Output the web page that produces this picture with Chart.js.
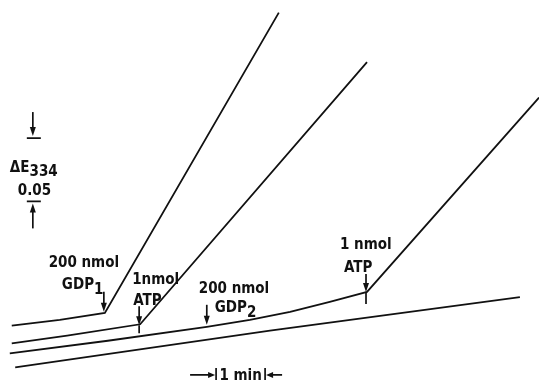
<!DOCTYPE html>
<html>
<head>
<meta charset="utf-8">
<script src="https://cdn.jsdelivr.net/npm/chart.js@4"></script>
<style>
  html, body { margin: 0; padding: 0; background: #fff; }
  #wrap { width: 539px; height: 380px; position: relative; }
</style>
</head>
<body>
<div id="wrap"><canvas id="c"></canvas></div>
<script>
// time in min, absorbance change at 334 nm
const TRACE1_T = [0.24, 1.22, 2.14, 5.69];
const TRACE1_E = [0.043, 0.0475, 0.053, 0.290];
const TRACE2_T = [0.24, 1.37, 2.86, 7.49];
const TRACE2_E = [0.029, 0.035, 0.044, 0.251];
const TRACE3_T = [0.20, 2.20, 4.22, 5.10, 5.92, 6.73, 7.49, 11.0];
const TRACE3_E = [0.021, 0.031, 0.042, 0.0474, 0.0537, 0.0616, 0.0695, 0.223];
const TRACE4_T = [0.31, 5.51, 10.61];
const TRACE4_E = [0.010, 0.039, 0.0655];

// additions: trace and index of the point where it was added
const EVENTS = [
  { name: 'GDP1', trace: 0, idx: 2 },
  { name: 'ATP1', trace: 1, idx: 2 },
  { name: 'GDP2', trace: 2, idx: 2 },
  { name: 'ATP2', trace: 2, idx: 6 }
];
const SCALE_E = 0.05;   // ΔE scale bar
const SCALE_T = 1;      // 1 min scale bar

const traces = [[TRACE1_T, TRACE1_E], [TRACE2_T, TRACE2_E], [TRACE3_T, TRACE3_E], [TRACE4_T, TRACE4_E]];

function toPoints(ts, es) {
  return ts.map((t, i) => ({ x: t, y: es[i] }));
}

const FONT = 'bold 15px "DejaVu Sans Condensed", "DejaVu Sans", sans-serif';
const SUBFONT = 'bold 15px "DejaVu Sans Condensed", "DejaVu Sans", sans-serif';
const INK = '#111';

function arrowDown(ctx, x, tipY, len, tick) {
  ctx.beginPath();
  ctx.moveTo(x, tipY - len);
  ctx.lineTo(x, tipY - 5);
  ctx.stroke();
  ctx.beginPath();
  ctx.moveTo(x, tipY);
  ctx.lineTo(x - 3, tipY - 9);
  ctx.lineTo(x + 3, tipY - 9);
  ctx.closePath();
  ctx.fill();
  if (tick) {
    ctx.beginPath();
    ctx.moveTo(x, tipY);
    ctx.lineTo(x, tipY + tick);
    ctx.stroke();
  }
}

function arrowUp(ctx, x, tipY, len) {
  ctx.beginPath();
  ctx.moveTo(x, tipY + len);
  ctx.lineTo(x, tipY + 5);
  ctx.stroke();
  ctx.beginPath();
  ctx.moveTo(x, tipY);
  ctx.lineTo(x - 3, tipY + 9);
  ctx.lineTo(x + 3, tipY + 9);
  ctx.closePath();
  ctx.fill();
}

function label(ctx, text, x, y, sub, subDy) {
  ctx.font = FONT;
  ctx.fillText(text, x, y);
  if (sub) {
    const w = ctx.measureText(text).width;
    ctx.font = SUBFONT;
    ctx.fillText(sub, x + w, y + subDy);
  }
}

const annotations = {
  id: 'annotations',
  afterDatasetsDraw(chart) {
    const { ctx, scales: { x, y } } = chart;
    ctx.save();
    ctx.strokeStyle = INK;
    ctx.fillStyle = INK;
    ctx.lineWidth = 1.7;
    ctx.textBaseline = 'alphabetic';

    const pos = EVENTS.map(ev => {
      const [ts, es] = traces[ev.trace];
      return { px: x.getPixelForValue(ts[ev.idx]), py: y.getPixelForValue(es[ev.idx]) };
    });

    // GDP1
    let p = pos[0];
    arrowDown(ctx, p.px - 1, p.py - 1, 20, 0);
    ctx.textAlign = 'center';
    label(ctx, '200 nmol', p.px - 21, p.py - 46);
    ctx.textAlign = 'left';
    label(ctx, 'GDP', p.px - 43, p.py - 24, '1', 5);

    // ATP on trace 2
    p = pos[1];
    arrowDown(ctx, p.px - 1, p.py + 1, 19, 8);
    label(ctx, '1nmol', p.px - 8, p.py - 40);
    label(ctx, 'ATP', p.px - 7, p.py - 19);

    // GDP2
    p = pos[2];
    arrowDown(ctx, p.px, p.py - 2, 20, 0);
    label(ctx, '200 nmol', p.px - 8, p.py - 34);
    label(ctx, 'GDP', p.px + 8, p.py - 15, '2', 5);

    // ATP on trace 3
    p = pos[3];
    arrowDown(ctx, p.px - 1, p.py, 18, 12);
    label(ctx, '1 nmol', p.px - 27, p.py - 43);
    label(ctx, 'ATP', p.px - 23, p.py - 20);

    // ΔE scale bar
    const bx = x.getPixelForValue(0.67);
    const yTop = y.getPixelForValue(0.191);
    const yBot = y.getPixelForValue(0.191 - SCALE_E);
    ctx.beginPath();
    ctx.moveTo(bx - 6, yTop); ctx.lineTo(bx + 8, yTop);
    ctx.moveTo(bx - 6, yBot); ctx.lineTo(bx + 8, yBot);
    ctx.stroke();
    arrowDown(ctx, bx, yTop - 2, 24, 0);
    arrowUp(ctx, bx, yBot + 2, 25);
    label(ctx, 'ΔE', bx - 23, yTop + 34, '334', 4);
    label(ctx, '0.05', bx - 15, yTop + 57);

    // 1 min scale bar
    const t0 = x.getPixelForValue(4.41);
    const t1 = x.getPixelForValue(4.41 + SCALE_T);
    const ty = y.getPixelForValue(0.004);
    ctx.beginPath();
    ctx.moveTo(t0, ty - 7); ctx.lineTo(t0, ty + 6);
    ctx.moveTo(t1, ty - 7); ctx.lineTo(t1, ty + 6);
    ctx.moveTo(t0 - 26, ty); ctx.lineTo(t0 - 6, ty);
    ctx.moveTo(t1 + 6, ty); ctx.lineTo(t1 + 17, ty);
    ctx.stroke();
    ctx.beginPath();
    ctx.moveTo(t0 - 1, ty); ctx.lineTo(t0 - 8, ty - 3); ctx.lineTo(t0 - 8, ty + 3); ctx.closePath();
    ctx.moveTo(t1 + 1, ty); ctx.lineTo(t1 + 8, ty - 3); ctx.lineTo(t1 + 8, ty + 3); ctx.closePath();
    ctx.fill();
    ctx.textAlign = 'center';
    label(ctx, '1 min', (t0 + t1) / 2, ty + 5);
    ctx.restore();
  }
};

new Chart(document.getElementById('c'), {
  type: 'scatter',
  data: {
    datasets: traces.map(([ts, es]) => ({
      data: toPoints(ts, es),
      showLine: true,
      borderColor: INK,
      borderWidth: 1.8,
      pointRadius: 0,
      tension: 0,
      fill: false
    }))
  },
  options: {
    responsive: true,
    maintainAspectRatio: false,
    animation: false,
    layout: { padding: 0 },
    scales: {
      x: { type: 'linear', min: 0, max: 11, display: false },
      y: { type: 'linear', min: 0, max: 0.3, display: false }
    },
    plugins: { legend: { display: false }, tooltip: { enabled: false } }
  },
  plugins: [annotations]
});
</script>
</body>
</html>
